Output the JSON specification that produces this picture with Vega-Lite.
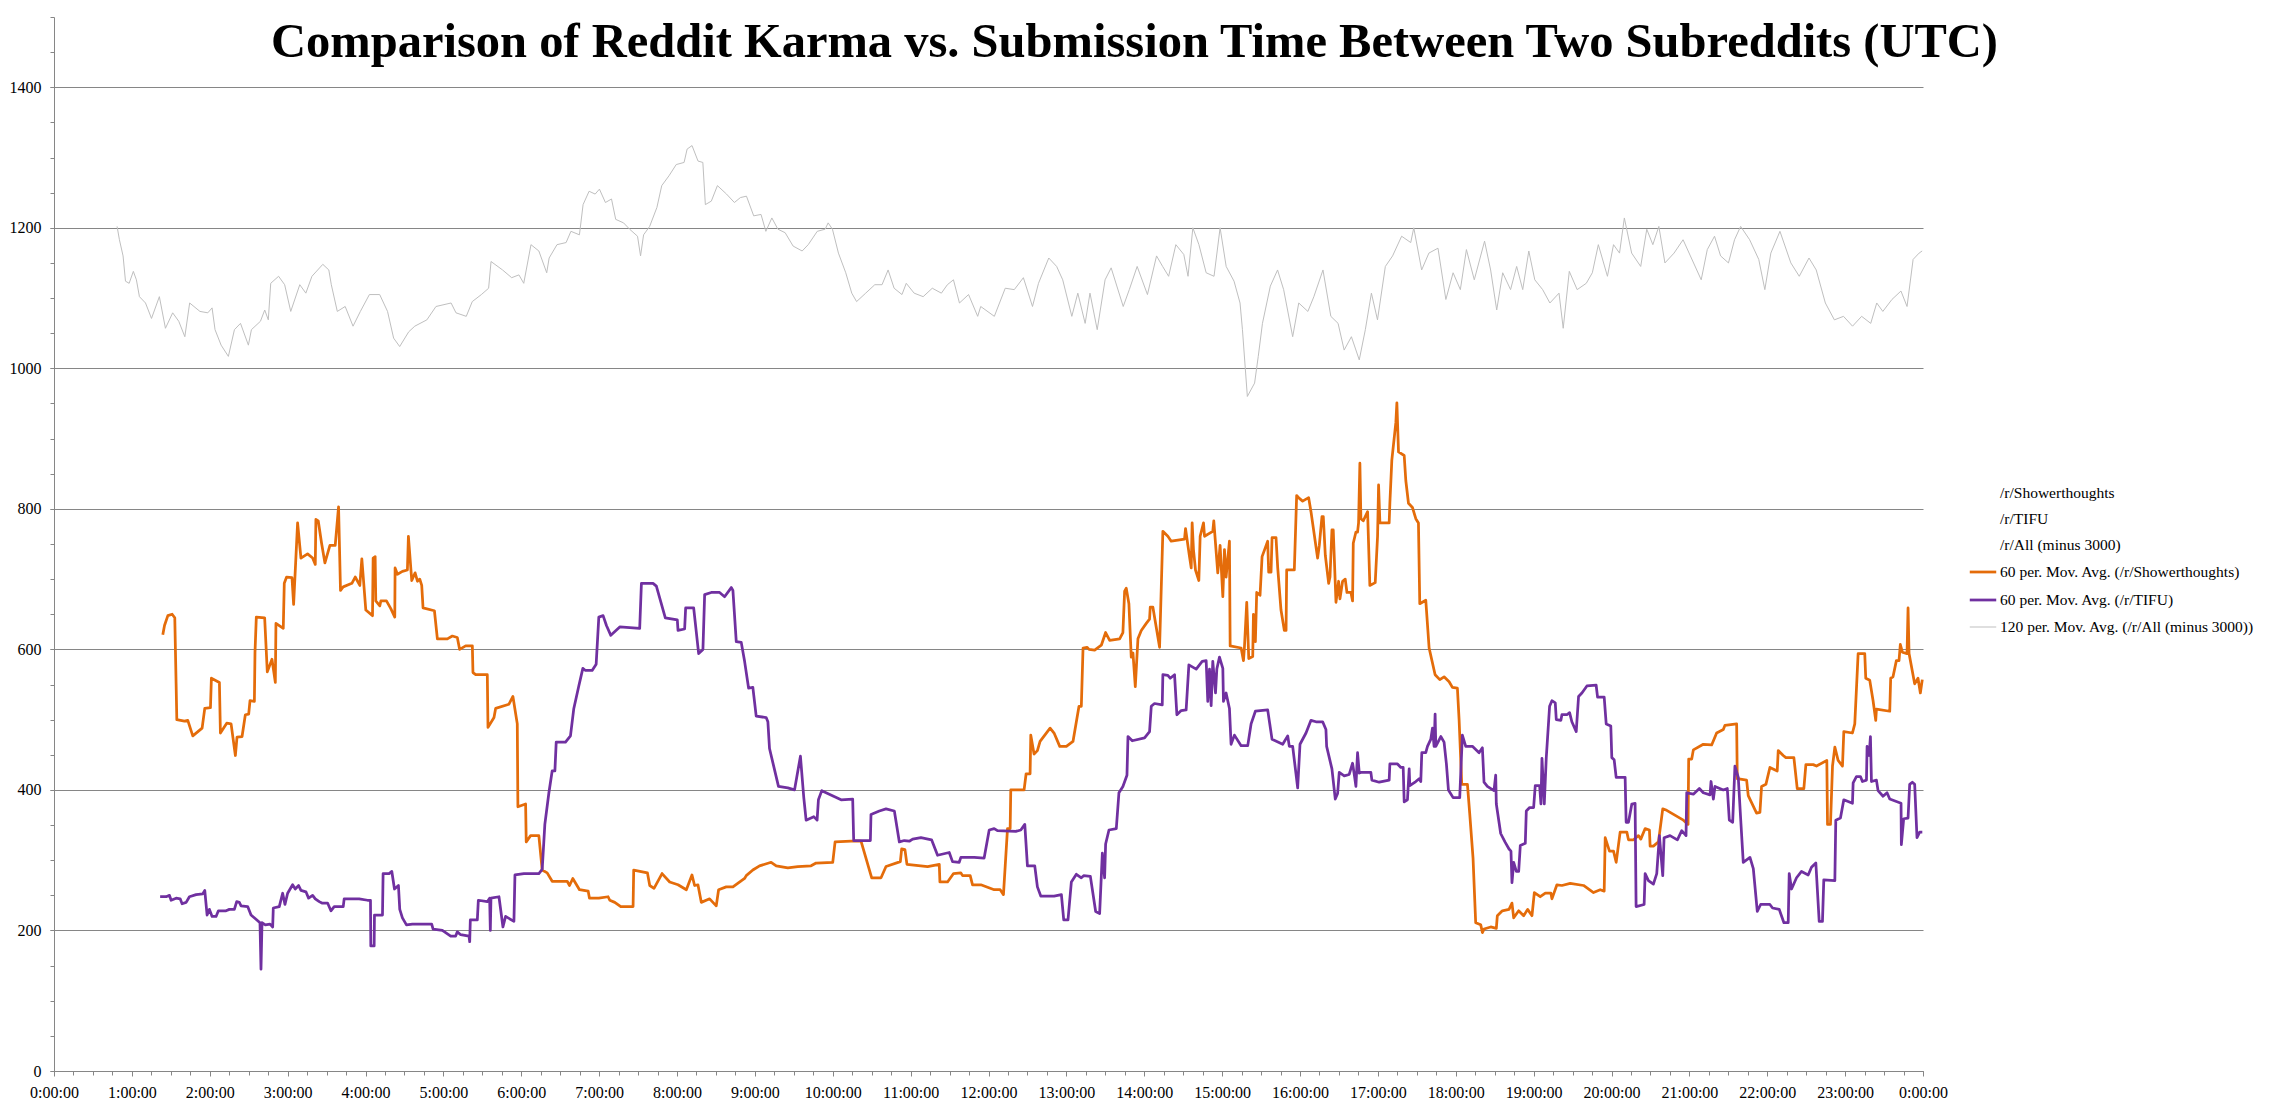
{
"$schema": "https://vega.github.io/schema/vega-lite/v6.json",
"width": 1869, "height": 1054,
"autosize": {"type": "none"},
"padding": {"left": 54, "top": 17, "right": 351, "bottom": 40},
"background": "white",
"config": {"view": {"stroke": null}, "font": "Liberation Serif",
 "axis": {"labelFont": "Liberation Serif", "labelColor": "black", "labelFontSize": 16, "domainColor": "#868686", "tickColor": "#868686", "gridColor": "#868686", "gridOpacity": 1}},
"data": {"values": [
{"s":"d","h":1.397,"v":621},{"s":"d","h":1.419,"v":634},{"s":"d","h":1.462,"v":648},{"s":"d","h":1.517,"v":650},{"s":"d","h":1.551,"v":645},{"s":"d","h":1.568,"v":551},{"s":"d","h":1.577,"v":500},{"s":"d","h":1.675,"v":498},{"s":"d","h":1.718,"v":499},{"s":"d","h":1.782,"v":477},{"s":"d","h":1.902,"v":488},{"s":"d","h":1.936,"v":516},{"s":"d","h":2.009,"v":517},{"s":"d","h":2.021,"v":559},{"s":"d","h":2.124,"v":553},{"s":"d","h":2.137,"v":481},{"s":"d","h":2.218,"v":495},{"s":"d","h":2.274,"v":494},{"s":"d","h":2.329,"v":449},{"s":"d","h":2.35,"v":475},{"s":"d","h":2.415,"v":476},{"s":"d","h":2.457,"v":507},{"s":"d","h":2.5,"v":508},{"s":"d","h":2.517,"v":527},{"s":"d","h":2.573,"v":526},{"s":"d","h":2.581,"v":596},{"s":"d","h":2.598,"v":646},{"s":"d","h":2.705,"v":645},{"s":"d","h":2.739,"v":568},{"s":"d","h":2.799,"v":586},{"s":"d","h":2.842,"v":553},{"s":"d","h":2.85,"v":637},{"s":"d","h":2.944,"v":630},{"s":"d","h":2.957,"v":694},{"s":"d","h":2.987,"v":703},{"s":"d","h":3.056,"v":702},{"s":"d","h":3.077,"v":664},{"s":"d","h":3.128,"v":780},{"s":"d","h":3.171,"v":730},{"s":"d","h":3.256,"v":736},{"s":"d","h":3.321,"v":730},{"s":"d","h":3.355,"v":721},{"s":"d","h":3.363,"v":785},{"s":"d","h":3.393,"v":783},{"s":"d","h":3.436,"v":751},{"s":"d","h":3.479,"v":723},{"s":"d","h":3.543,"v":748},{"s":"d","h":3.611,"v":748},{"s":"d","h":3.654,"v":803},{"s":"d","h":3.679,"v":684},{"s":"d","h":3.714,"v":689},{"s":"d","h":3.825,"v":694},{"s":"d","h":3.868,"v":703},{"s":"d","h":3.927,"v":691},{"s":"d","h":3.953,"v":729},{"s":"d","h":4.004,"v":656},{"s":"d","h":4.09,"v":648},{"s":"d","h":4.098,"v":730},{"s":"d","h":4.124,"v":732},{"s":"d","h":4.132,"v":669},{"s":"d","h":4.184,"v":662},{"s":"d","h":4.197,"v":669},{"s":"d","h":4.269,"v":669},{"s":"d","h":4.325,"v":658},{"s":"d","h":4.376,"v":646},{"s":"d","h":4.38,"v":716},{"s":"d","h":4.41,"v":707},{"s":"d","h":4.474,"v":711},{"s":"d","h":4.538,"v":713},{"s":"d","h":4.551,"v":761},{"s":"d","h":4.594,"v":698},{"s":"d","h":4.637,"v":709},{"s":"d","h":4.667,"v":697},{"s":"d","h":4.697,"v":700},{"s":"d","h":4.722,"v":691},{"s":"d","h":4.739,"v":659},{"s":"d","h":4.885,"v":655},{"s":"d","h":4.923,"v":615},{"s":"d","h":5.051,"v":615},{"s":"d","h":5.115,"v":619},{"s":"d","h":5.179,"v":617},{"s":"d","h":5.209,"v":600},{"s":"d","h":5.286,"v":605},{"s":"d","h":5.372,"v":605},{"s":"d","h":5.38,"v":567},{"s":"d","h":5.415,"v":564},{"s":"d","h":5.564,"v":564},{"s":"d","h":5.573,"v":489},{"s":"d","h":5.65,"v":503},{"s":"d","h":5.671,"v":516},{"s":"d","h":5.842,"v":522},{"s":"d","h":5.893,"v":533},{"s":"d","h":5.949,"v":494},{"s":"d","h":5.957,"v":376},{"s":"d","h":6.056,"v":380},{"s":"d","h":6.064,"v":326},{"s":"d","h":6.12,"v":335},{"s":"d","h":6.226,"v":335},{"s":"d","h":6.269,"v":286},{"s":"d","h":6.333,"v":282},{"s":"d","h":6.397,"v":270},{"s":"d","h":6.59,"v":270},{"s":"d","h":6.62,"v":264},{"s":"d","h":6.662,"v":274},{"s":"d","h":6.748,"v":258},{"s":"d","h":6.859,"v":256},{"s":"d","h":6.876,"v":246},{"s":"d","h":6.996,"v":246},
{"s":"d","h":7.115,"v":248},{"s":"d","h":7.137,"v":243},{"s":"d","h":7.201,"v":240},{"s":"d","h":7.278,"v":234},{"s":"d","h":7.436,"v":234},{"s":"d","h":7.444,"v":286},{"s":"d","h":7.62,"v":282},{"s":"d","h":7.65,"v":264},{"s":"d","h":7.705,"v":260},{"s":"d","h":7.808,"v":281},{"s":"d","h":7.906,"v":269},{"s":"d","h":8.013,"v":265},{"s":"d","h":8.12,"v":258},{"s":"d","h":8.192,"v":279},{"s":"d","h":8.226,"v":264},{"s":"d","h":8.269,"v":265},{"s":"d","h":8.312,"v":240},{"s":"d","h":8.419,"v":245},{"s":"d","h":8.504,"v":235},{"s":"d","h":8.534,"v":258},{"s":"d","h":8.632,"v":262},{"s":"d","h":8.718,"v":262},{"s":"d","h":8.868,"v":274},{"s":"d","h":8.889,"v":278},{"s":"d","h":8.974,"v":286},{"s":"d","h":9.06,"v":292},{"s":"d","h":9.209,"v":297},{"s":"d","h":9.274,"v":292},{"s":"d","h":9.423,"v":289},{"s":"d","h":9.551,"v":291},{"s":"d","h":9.722,"v":292},{"s":"d","h":9.786,"v":296},{"s":"d","h":10.0,"v":297},{"s":"d","h":10.03,"v":326},{"s":"d","h":10.235,"v":327},{"s":"d","h":10.363,"v":327},{"s":"d","h":10.5,"v":275},{"s":"d","h":10.62,"v":275},{"s":"d","h":10.684,"v":291},{"s":"d","h":10.868,"v":298},{"s":"d","h":10.885,"v":316},{"s":"d","h":10.927,"v":315},{"s":"d","h":10.953,"v":294},{"s":"d","h":11.218,"v":291},{"s":"d","h":11.368,"v":294},{"s":"d","h":11.376,"v":269},{"s":"d","h":11.474,"v":269},{"s":"d","h":11.551,"v":281},{"s":"d","h":11.645,"v":282},{"s":"d","h":11.667,"v":278},{"s":"d","h":11.765,"v":278},{"s":"d","h":11.795,"v":265},{"s":"d","h":11.902,"v":265},{"s":"d","h":12.073,"v":258},{"s":"d","h":12.15,"v":258},{"s":"d","h":12.192,"v":251},{"s":"d","h":12.244,"v":345},{"s":"d","h":12.278,"v":345},{"s":"d","h":12.286,"v":400},{"s":"d","h":12.457,"v":400},{"s":"d","h":12.483,"v":423},{"s":"d","h":12.534,"v":423},{"s":"d","h":12.543,"v":478},{"s":"d","h":12.585,"v":451},{"s":"d","h":12.628,"v":456},{"s":"d","h":12.662,"v":469},{"s":"d","h":12.791,"v":488},{"s":"d","h":12.842,"v":481},
{"s":"d","h":12.915,"v":462},{"s":"d","h":13.0,"v":462},{"s":"d","h":13.085,"v":469},{"s":"d","h":13.162,"v":519},{"s":"d","h":13.192,"v":519},{"s":"d","h":13.214,"v":602},{"s":"d","h":13.265,"v":603},{"s":"d","h":13.291,"v":600},{"s":"d","h":13.363,"v":599},{"s":"d","h":13.449,"v":606},{"s":"d","h":13.504,"v":624},{"s":"d","h":13.556,"v":613},{"s":"d","h":13.684,"v":615},{"s":"d","h":13.726,"v":624},{"s":"d","h":13.748,"v":683},{"s":"d","h":13.769,"v":687},{"s":"d","h":13.803,"v":665},{"s":"d","h":13.833,"v":589},{"s":"d","h":13.855,"v":595},{"s":"d","h":13.885,"v":547},{"s":"d","h":13.919,"v":615},{"s":"d","h":13.962,"v":627},{"s":"d","h":14.026,"v":637},{"s":"d","h":14.068,"v":643},{"s":"d","h":14.077,"v":660},{"s":"d","h":14.111,"v":660},{"s":"d","h":14.197,"v":603},{"s":"d","h":14.239,"v":768},{"s":"d","h":14.303,"v":761},{"s":"d","h":14.346,"v":754},{"s":"d","h":14.517,"v":757},{"s":"d","h":14.53,"v":772},{"s":"d","h":14.581,"v":732},{"s":"d","h":14.603,"v":716},{"s":"d","h":14.615,"v":780},{"s":"d","h":14.632,"v":742},{"s":"d","h":14.658,"v":713},{"s":"d","h":14.701,"v":698},{"s":"d","h":14.718,"v":761},{"s":"d","h":14.761,"v":780},{"s":"d","h":14.774,"v":761},{"s":"d","h":14.88,"v":768},{"s":"d","h":14.893,"v":783},{"s":"d","h":14.944,"v":709},{"s":"d","h":14.974,"v":748},{"s":"d","h":15.009,"v":675},{"s":"d","h":15.03,"v":742},{"s":"d","h":15.051,"v":703},{"s":"d","h":15.094,"v":754},{"s":"d","h":15.103,"v":605},{"s":"d","h":15.244,"v":602},{"s":"d","h":15.274,"v":584},{"s":"d","h":15.286,"v":602},{"s":"d","h":15.316,"v":667},{"s":"d","h":15.342,"v":587},{"s":"d","h":15.393,"v":590},{"s":"d","h":15.402,"v":650},{"s":"d","h":15.427,"v":611},{"s":"d","h":15.444,"v":681},{"s":"d","h":15.487,"v":677},{"s":"d","h":15.513,"v":732},{"s":"d","h":15.585,"v":754},{"s":"d","h":15.598,"v":710},{"s":"d","h":15.628,"v":710},{"s":"d","h":15.641,"v":759},{"s":"d","h":15.692,"v":759},{"s":"d","h":15.714,"v":716},{"s":"d","h":15.756,"v":656},{"s":"d","h":15.799,"v":627},{"s":"d","h":15.821,"v":627},{"s":"d","h":15.829,"v":713},{"s":"d","h":15.927,"v":713},{"s":"d","h":15.957,"v":819},{"s":"d","h":15.991,"v":815},{"s":"d","h":16.034,"v":811},{"s":"d","h":16.111,"v":816},{"s":"d","h":16.141,"v":796},{"s":"d","h":16.226,"v":730},{"s":"d","h":16.248,"v":748},{"s":"d","h":16.282,"v":789},{"s":"d","h":16.299,"v":789},{"s":"d","h":16.325,"v":734},{"s":"d","h":16.368,"v":694},{"s":"d","h":16.385,"v":703},{"s":"d","h":16.41,"v":770},{"s":"d","h":16.427,"v":770},{"s":"d","h":16.462,"v":667},{"s":"d","h":16.496,"v":697},{"s":"d","h":16.513,"v":672},{"s":"d","h":16.547,"v":697},{"s":"d","h":16.581,"v":700},{"s":"d","h":16.603,"v":681},{"s":"d","h":16.654,"v":681},{"s":"d","h":16.675,"v":669},{"s":"d","h":16.684,"v":751},{"s":"d","h":16.718,"v":767},{"s":"d","h":16.739,"v":767},{"s":"d","h":16.752,"v":780},{"s":"d","h":16.769,"v":865},{"s":"d","h":16.782,"v":786},{"s":"d","h":16.812,"v":783},{"s":"d","h":16.868,"v":796},{"s":"d","h":16.897,"v":691},{"s":"d","h":16.966,"v":695},{"s":"d","h":16.996,"v":761},{"s":"d","h":17.009,"v":834},{"s":"d","h":17.026,"v":780},{"s":"d","h":17.145,"v":780},{"s":"d","h":17.154,"v":808},{"s":"d","h":17.179,"v":869},{"s":"d","h":17.231,"v":923},{"s":"d","h":17.244,"v":951},{"s":"d","h":17.265,"v":881},{"s":"d","h":17.338,"v":876},{"s":"d","h":17.359,"v":840},{"s":"d","h":17.393,"v":808},{"s":"d","h":17.444,"v":802},{"s":"d","h":17.487,"v":786},{"s":"d","h":17.521,"v":780},{"s":"d","h":17.538,"v":665},{"s":"d","h":17.615,"v":670},{"s":"d","h":17.658,"v":602},{"s":"d","h":17.735,"v":564},{"s":"d","h":17.795,"v":557},{"s":"d","h":17.85,"v":561},{"s":"d","h":17.915,"v":554},{"s":"d","h":17.957,"v":546},{"s":"d","h":18.021,"v":545},{"s":"d","h":18.043,"v":500},{"s":"d","h":18.077,"v":408},{"s":"d","h":18.15,"v":408},{"s":"d","h":18.179,"v":367},{"s":"d","h":18.222,"v":303},{"s":"d","h":18.256,"v":211},{"s":"d","h":18.321,"v":208},{"s":"d","h":18.342,"v":197},{"s":"d","h":18.363,"v":202},{"s":"d","h":18.449,"v":205},{"s":"d","h":18.521,"v":203},{"s":"d","h":18.534,"v":221},{"s":"d","h":18.598,"v":228},{"s":"d","h":18.684,"v":230},
{"s":"d","h":18.722,"v":239},{"s":"d","h":18.744,"v":218},{"s":"d","h":18.808,"v":228},{"s":"d","h":18.872,"v":221},{"s":"d","h":18.923,"v":230},{"s":"d","h":18.979,"v":221},{"s":"d","h":19.009,"v":254},{"s":"d","h":19.085,"v":248},{"s":"d","h":19.15,"v":253},{"s":"d","h":19.222,"v":253},{"s":"d","h":19.235,"v":245},{"s":"d","h":19.299,"v":265},{"s":"d","h":19.363,"v":264},{"s":"d","h":19.47,"v":267},{"s":"d","h":19.641,"v":264},{"s":"d","h":19.769,"v":254},{"s":"d","h":19.855,"v":258},{"s":"d","h":19.906,"v":256},{"s":"d","h":19.919,"v":332},{"s":"d","h":19.974,"v":313},{"s":"d","h":20.026,"v":313},{"s":"d","h":20.06,"v":297},{"s":"d","h":20.111,"v":340},{"s":"d","h":20.197,"v":340},{"s":"d","h":20.218,"v":329},{"s":"d","h":20.282,"v":329},{"s":"d","h":20.346,"v":335},{"s":"d","h":20.376,"v":330},{"s":"d","h":20.432,"v":345},{"s":"d","h":20.487,"v":343},{"s":"d","h":20.496,"v":320},{"s":"d","h":20.538,"v":320},{"s":"d","h":20.603,"v":326},{"s":"d","h":20.658,"v":373},{"s":"d","h":20.709,"v":371},{"s":"d","h":20.923,"v":357},{"s":"d","h":20.983,"v":351},{"s":"d","h":20.991,"v":444},{"s":"d","h":21.03,"v":444},{"s":"d","h":21.051,"v":457},{"s":"d","h":21.179,"v":465},{"s":"d","h":21.286,"v":464},{"s":"d","h":21.35,"v":481},{"s":"d","h":21.436,"v":486},{"s":"d","h":21.457,"v":492},{"s":"d","h":21.607,"v":494},{"s":"d","h":21.615,"v":416},{"s":"d","h":21.735,"v":414},{"s":"d","h":21.756,"v":392},{"s":"d","h":21.863,"v":367},{"s":"d","h":21.906,"v":368},{"s":"d","h":21.927,"v":405},{"s":"d","h":21.983,"v":408},{"s":"d","h":22.034,"v":432},{"s":"d","h":22.128,"v":427},{"s":"d","h":22.141,"v":456},{"s":"d","h":22.205,"v":449},{"s":"d","h":22.239,"v":446},{"s":"d","h":22.342,"v":446},{"s":"d","h":22.385,"v":402},{"s":"d","h":22.47,"v":402},{"s":"d","h":22.496,"v":436},{"s":"d","h":22.59,"v":436},{"s":"d","h":22.632,"v":434},{"s":"d","h":22.765,"v":442},{"s":"d","h":22.774,"v":351},{"s":"d","h":22.812,"v":351},{"s":"d","h":22.838,"v":434},{"s":"d","h":22.868,"v":461},{"s":"d","h":22.91,"v":442},{"s":"d","h":22.966,"v":434},{"s":"d","h":22.983,"v":483},{"s":"d","h":23.094,"v":481},{"s":"d","h":23.124,"v":494},{"s":"d","h":23.167,"v":594},{"s":"d","h":23.252,"v":594},{"s":"d","h":23.265,"v":559},{"s":"d","h":23.316,"v":556},{"s":"d","h":23.359,"v":527},{"s":"d","h":23.393,"v":499},{"s":"d","h":23.402,"v":515},{"s":"d","h":23.573,"v":512},{"s":"d","h":23.585,"v":559},{"s":"d","h":23.615,"v":561},{"s":"d","h":23.658,"v":584},{"s":"d","h":23.692,"v":584},{"s":"d","h":23.709,"v":607},{"s":"d","h":23.735,"v":596},{"s":"d","h":23.795,"v":594},{"s":"d","h":23.808,"v":659},{"s":"d","h":23.821,"v":594},{"s":"d","h":23.893,"v":551},{"s":"d","h":23.936,"v":559},{"s":"d","h":23.966,"v":538},{"s":"d","h":23.991,"v":557},
{"s":"e","h":1.363,"v":248},{"s":"e","h":1.44,"v":248},{"s":"e","h":1.483,"v":250},{"s":"e","h":1.504,"v":243},{"s":"e","h":1.568,"v":246},{"s":"e","h":1.62,"v":245},{"s":"e","h":1.645,"v":238},{"s":"e","h":1.697,"v":240},{"s":"e","h":1.739,"v":248},{"s":"e","h":1.825,"v":251},{"s":"e","h":1.91,"v":252},{"s":"e","h":1.936,"v":257},{"s":"e","h":1.966,"v":222},{"s":"e","h":1.996,"v":230},{"s":"e","h":2.03,"v":220},{"s":"e","h":2.081,"v":220},{"s":"e","h":2.111,"v":228},{"s":"e","h":2.209,"v":228},{"s":"e","h":2.252,"v":230},{"s":"e","h":2.316,"v":230},{"s":"e","h":2.346,"v":241},{"s":"e","h":2.38,"v":240},{"s":"e","h":2.402,"v":235},{"s":"e","h":2.487,"v":234},{"s":"e","h":2.53,"v":222},{"s":"e","h":2.594,"v":216},{"s":"e","h":2.645,"v":211},{"s":"e","h":2.658,"v":145},{"s":"e","h":2.671,"v":211},{"s":"e","h":2.714,"v":208},{"s":"e","h":2.774,"v":209},{"s":"e","h":2.808,"v":205},{"s":"e","h":2.816,"v":232},{"s":"e","h":2.893,"v":234},{"s":"e","h":2.936,"v":253},{"s":"e","h":2.966,"v":237},{"s":"e","h":3.0,"v":253},{"s":"e","h":3.064,"v":265},{"s":"e","h":3.098,"v":259},{"s":"e","h":3.141,"v":264},{"s":"e","h":3.171,"v":257},{"s":"e","h":3.235,"v":255},{"s":"e","h":3.269,"v":246},{"s":"e","h":3.321,"v":250},{"s":"e","h":3.355,"v":245},{"s":"e","h":3.406,"v":241},{"s":"e","h":3.44,"v":239},{"s":"e","h":3.513,"v":239},{"s":"e","h":3.556,"v":228},{"s":"e","h":3.598,"v":234},{"s":"e","h":3.714,"v":234},{"s":"e","h":3.726,"v":245},{"s":"e","h":3.919,"v":245},{"s":"e","h":4.026,"v":243},{"s":"e","h":4.064,"v":243},{"s":"e","h":4.068,"v":178},{"s":"e","h":4.111,"v":178},{"s":"e","h":4.115,"v":222},{"s":"e","h":4.218,"v":222},{"s":"e","h":4.226,"v":281},{"s":"e","h":4.303,"v":281},{"s":"e","h":4.338,"v":284},{"s":"e","h":4.372,"v":259},{"s":"e","h":4.423,"v":264},{"s":"e","h":4.44,"v":230},{"s":"e","h":4.474,"v":218},{"s":"e","h":4.526,"v":208},{"s":"e","h":4.603,"v":209},{"s":"e","h":4.85,"v":209},{"s":"e","h":4.868,"v":202},{"s":"e","h":4.987,"v":200},{"s":"e","h":5.094,"v":192},{"s":"e","h":5.158,"v":192},{"s":"e","h":5.179,"v":198},{"s":"e","h":5.222,"v":194},{"s":"e","h":5.329,"v":192},{"s":"e","h":5.338,"v":184},{"s":"e","h":5.346,"v":215},{"s":"e","h":5.436,"v":215},{"s":"e","h":5.449,"v":243},{"s":"e","h":5.564,"v":241},{"s":"e","h":5.594,"v":246},{"s":"e","h":5.603,"v":200},{"s":"e","h":5.611,"v":246},{"s":"e","h":5.714,"v":248},{"s":"e","h":5.765,"v":205},{"s":"e","h":5.799,"v":220},{"s":"e","h":5.906,"v":213},{"s":"e","h":5.919,"v":279},{"s":"e","h":6.034,"v":281},{"s":"e","h":6.226,"v":281},{"s":"e","h":6.269,"v":287},{"s":"e","h":6.303,"v":351},{"s":"e","h":6.355,"v":396},{"s":"e","h":6.397,"v":427},{"s":"e","h":6.432,"v":427},{"s":"e","h":6.449,"v":468},{"s":"e","h":6.568,"v":468},{"s":"e","h":6.632,"v":477},{"s":"e","h":6.675,"v":516},{"s":"e","h":6.739,"v":548},{"s":"e","h":6.791,"v":573},{"s":"e","h":6.825,"v":570},{"s":"e","h":6.91,"v":570},{"s":"e","h":6.962,"v":579},{"s":"e","h":6.996,"v":646},
{"s":"e","h":7.051,"v":648},{"s":"e","h":7.094,"v":634},{"s":"e","h":7.15,"v":620},{"s":"e","h":7.265,"v":632},{"s":"e","h":7.521,"v":630},{"s":"e","h":7.543,"v":694},{"s":"e","h":7.692,"v":694},{"s":"e","h":7.735,"v":690},{"s":"e","h":7.85,"v":645},{"s":"e","h":8.004,"v":642},{"s":"e","h":8.013,"v":627},{"s":"e","h":8.098,"v":629},{"s":"e","h":8.111,"v":659},{"s":"e","h":8.214,"v":659},{"s":"e","h":8.278,"v":594},{"s":"e","h":8.333,"v":600},{"s":"e","h":8.355,"v":678},{"s":"e","h":8.44,"v":681},{"s":"e","h":8.547,"v":681},{"s":"e","h":8.611,"v":675},{"s":"e","h":8.697,"v":688},{"s":"e","h":8.718,"v":684},{"s":"e","h":8.761,"v":611},{"s":"e","h":8.825,"v":610},{"s":"e","h":8.868,"v":583},{"s":"e","h":8.919,"v":545},{"s":"e","h":8.974,"v":546},{"s":"e","h":9.017,"v":505},{"s":"e","h":9.145,"v":503},{"s":"e","h":9.167,"v":497},{"s":"e","h":9.188,"v":459},{"s":"e","h":9.303,"v":405},{"s":"e","h":9.423,"v":403},{"s":"e","h":9.509,"v":400},{"s":"e","h":9.585,"v":448},{"s":"e","h":9.628,"v":389},{"s":"e","h":9.658,"v":357},{"s":"e","h":9.756,"v":362},{"s":"e","h":9.799,"v":357},{"s":"e","h":9.816,"v":386},{"s":"e","h":9.859,"v":399},{"s":"e","h":10.107,"v":386},{"s":"e","h":10.256,"v":387},{"s":"e","h":10.269,"v":328},{"s":"e","h":10.483,"v":328},{"s":"e","h":10.491,"v":365},{"s":"e","h":10.598,"v":370},{"s":"e","h":10.684,"v":373},{"s":"e","h":10.791,"v":370},{"s":"e","h":10.855,"v":326},{"s":"e","h":10.919,"v":328},{"s":"e","h":10.983,"v":327},{"s":"e","h":11.026,"v":330},{"s":"e","h":11.132,"v":332},{"s":"e","h":11.269,"v":329},{"s":"e","h":11.346,"v":307},{"s":"e","h":11.496,"v":311},{"s":"e","h":11.538,"v":298},{"s":"e","h":11.624,"v":297},{"s":"e","h":11.645,"v":304},{"s":"e","h":11.816,"v":304},{"s":"e","h":11.944,"v":303},{"s":"e","h":12.009,"v":343},{"s":"e","h":12.073,"v":345},{"s":"e","h":12.115,"v":342},{"s":"e","h":12.35,"v":341},{"s":"e","h":12.415,"v":343},{"s":"e","h":12.466,"v":351},{"s":"e","h":12.5,"v":292},{"s":"e","h":12.594,"v":292},{"s":"e","h":12.628,"v":262},{"s":"e","h":12.671,"v":249},{"s":"e","h":12.842,"v":249},
{"s":"e","h":12.936,"v":251},{"s":"e","h":12.966,"v":215},{"s":"e","h":13.021,"v":215},{"s":"e","h":13.064,"v":269},{"s":"e","h":13.128,"v":280},{"s":"e","h":13.192,"v":275},{"s":"e","h":13.222,"v":278},{"s":"e","h":13.308,"v":277},{"s":"e","h":13.376,"v":227},{"s":"e","h":13.427,"v":224},{"s":"e","h":13.462,"v":310},{"s":"e","h":13.491,"v":275},{"s":"e","h":13.504,"v":323},{"s":"e","h":13.547,"v":343},{"s":"e","h":13.641,"v":345},{"s":"e","h":13.675,"v":396},{"s":"e","h":13.726,"v":405},{"s":"e","h":13.778,"v":421},{"s":"e","h":13.791,"v":476},{"s":"e","h":13.846,"v":470},{"s":"e","h":14.004,"v":474},{"s":"e","h":14.068,"v":483},{"s":"e","h":14.09,"v":519},{"s":"e","h":14.132,"v":523},{"s":"e","h":14.231,"v":521},{"s":"e","h":14.239,"v":564},{"s":"e","h":14.303,"v":563},{"s":"e","h":14.333,"v":559},{"s":"e","h":14.389,"v":564},{"s":"e","h":14.419,"v":507},{"s":"e","h":14.474,"v":513},{"s":"e","h":14.538,"v":514},{"s":"e","h":14.573,"v":578},{"s":"e","h":14.667,"v":572},{"s":"e","h":14.744,"v":583},{"s":"e","h":14.795,"v":584},{"s":"e","h":14.816,"v":526},{"s":"e","h":14.838,"v":572},{"s":"e","h":14.859,"v":520},{"s":"e","h":14.88,"v":583},{"s":"e","h":14.915,"v":538},{"s":"e","h":14.932,"v":572},{"s":"e","h":14.966,"v":589},{"s":"e","h":15.009,"v":573},{"s":"e","h":15.017,"v":526},{"s":"e","h":15.051,"v":538},{"s":"e","h":15.094,"v":516},{"s":"e","h":15.115,"v":465},{"s":"e","h":15.158,"v":478},{"s":"e","h":15.244,"v":463},{"s":"e","h":15.329,"v":463},{"s":"e","h":15.372,"v":494},{"s":"e","h":15.427,"v":512},{"s":"e","h":15.585,"v":514},{"s":"e","h":15.641,"v":472},{"s":"e","h":15.778,"v":465},{"s":"e","h":15.842,"v":477},{"s":"e","h":15.863,"v":462},{"s":"e","h":15.906,"v":462},{"s":"e","h":15.97,"v":403},{"s":"e","h":16.0,"v":465},{"s":"e","h":16.077,"v":481},{"s":"e","h":16.141,"v":499},{"s":"e","h":16.205,"v":497},{"s":"e","h":16.291,"v":497},{"s":"e","h":16.333,"v":486},{"s":"e","h":16.342,"v":462},{"s":"e","h":16.41,"v":430},{"s":"e","h":16.453,"v":387},{"s":"e","h":16.483,"v":395},{"s":"e","h":16.504,"v":425},{"s":"e","h":16.568,"v":420},{"s":"e","h":16.632,"v":422},{"s":"e","h":16.675,"v":438},{"s":"e","h":16.697,"v":422},{"s":"e","h":16.718,"v":405},{"s":"e","h":16.739,"v":453},{"s":"e","h":16.761,"v":424},{"s":"e","h":16.782,"v":425},{"s":"e","h":16.91,"v":425},{"s":"e","h":16.923,"v":414},{"s":"e","h":17.017,"v":411},{"s":"e","h":17.145,"v":414},{"s":"e","h":17.154,"v":437},{"s":"e","h":17.252,"v":437},{"s":"e","h":17.295,"v":432},{"s":"e","h":17.325,"v":432},{"s":"e","h":17.338,"v":383},{"s":"e","h":17.38,"v":386},{"s":"e","h":17.402,"v":430},{"s":"e","h":17.41,"v":406},{"s":"e","h":17.487,"v":412},{"s":"e","h":17.53,"v":416},{"s":"e","h":17.551,"v":412},{"s":"e","h":17.564,"v":453},{"s":"e","h":17.615,"v":453},{"s":"e","h":17.637,"v":462},{"s":"e","h":17.679,"v":472},{"s":"e","h":17.701,"v":488},{"s":"e","h":17.722,"v":462},{"s":"e","h":17.735,"v":508},{"s":"e","h":17.744,"v":462},{"s":"e","h":17.808,"v":476},{"s":"e","h":17.85,"v":468},{"s":"e","h":17.88,"v":437},{"s":"e","h":17.906,"v":400},{"s":"e","h":17.966,"v":389},{"s":"e","h":18.051,"v":389},{"s":"e","h":18.085,"v":478},{"s":"e","h":18.128,"v":462},{"s":"e","h":18.214,"v":462},{"s":"e","h":18.299,"v":453},{"s":"e","h":18.342,"v":460},{"s":"e","h":18.363,"v":411},{"s":"e","h":18.406,"v":405},{"s":"e","h":18.491,"v":399},{"s":"e","h":18.513,"v":421},{"s":"e","h":18.521,"v":380},{"s":"e","h":18.577,"v":338},{"s":"e","h":18.632,"v":326},{"s":"e","h":18.684,"v":316},
{"s":"e","h":18.709,"v":313},{"s":"e","h":18.722,"v":268},{"s":"e","h":18.744,"v":297},{"s":"e","h":18.778,"v":284},{"s":"e","h":18.808,"v":284},{"s":"e","h":18.829,"v":321},{"s":"e","h":18.893,"v":324},{"s":"e","h":18.906,"v":370},{"s":"e","h":18.949,"v":375},{"s":"e","h":19.0,"v":375},{"s":"e","h":19.021,"v":406},{"s":"e","h":19.077,"v":406},{"s":"e","h":19.094,"v":380},{"s":"e","h":19.107,"v":445},{"s":"e","h":19.137,"v":380},{"s":"e","h":19.162,"v":445},{"s":"e","h":19.205,"v":519},{"s":"e","h":19.235,"v":527},{"s":"e","h":19.278,"v":524},{"s":"e","h":19.291,"v":500},{"s":"e","h":19.35,"v":499},{"s":"e","h":19.363,"v":507},{"s":"e","h":19.427,"v":507},{"s":"e","h":19.462,"v":510},{"s":"e","h":19.491,"v":497},{"s":"e","h":19.547,"v":483},{"s":"e","h":19.577,"v":533},{"s":"e","h":19.62,"v":538},{"s":"e","h":19.684,"v":548},{"s":"e","h":19.803,"v":549},{"s":"e","h":19.821,"v":532},{"s":"e","h":19.906,"v":532},{"s":"e","h":19.932,"v":494},{"s":"e","h":19.991,"v":491},{"s":"e","h":20.004,"v":446},{"s":"e","h":20.034,"v":443},{"s":"e","h":20.06,"v":418},{"s":"e","h":20.175,"v":418},{"s":"e","h":20.188,"v":354},{"s":"e","h":20.218,"v":354},{"s":"e","h":20.261,"v":380},{"s":"e","h":20.303,"v":381},{"s":"e","h":20.316,"v":234},{"s":"e","h":20.419,"v":237},{"s":"e","h":20.432,"v":281},{"s":"e","h":20.474,"v":271},{"s":"e","h":20.538,"v":266},{"s":"e","h":20.581,"v":281},{"s":"e","h":20.615,"v":335},{"s":"e","h":20.658,"v":278},{"s":"e","h":20.675,"v":332},{"s":"e","h":20.752,"v":335},{"s":"e","h":20.846,"v":329},{"s":"e","h":20.902,"v":342},{"s":"e","h":20.957,"v":335},{"s":"e","h":20.966,"v":396},{"s":"e","h":21.051,"v":394},{"s":"e","h":21.128,"v":402},{"s":"e","h":21.179,"v":396},{"s":"e","h":21.265,"v":393},{"s":"e","h":21.278,"v":412},{"s":"e","h":21.308,"v":387},{"s":"e","h":21.329,"v":405},{"s":"e","h":21.436,"v":400},{"s":"e","h":21.487,"v":402},{"s":"e","h":21.513,"v":357},{"s":"e","h":21.556,"v":354},{"s":"e","h":21.585,"v":434},{"s":"e","h":21.628,"v":418},{"s":"e","h":21.658,"v":360},{"s":"e","h":21.692,"v":297},{"s":"e","h":21.778,"v":304},{"s":"e","h":21.821,"v":288},{"s":"e","h":21.872,"v":227},{"s":"e","h":21.915,"v":237},{"s":"e","h":22.034,"v":237},{"s":"e","h":22.068,"v":232},{"s":"e","h":22.154,"v":230},{"s":"e","h":22.214,"v":211},{"s":"e","h":22.269,"v":211},{"s":"e","h":22.282,"v":281},{"s":"e","h":22.312,"v":259},{"s":"e","h":22.376,"v":275},{"s":"e","h":22.44,"v":284},{"s":"e","h":22.526,"v":279},{"s":"e","h":22.568,"v":290},{"s":"e","h":22.624,"v":296},{"s":"e","h":22.667,"v":213},{"s":"e","h":22.709,"v":213},{"s":"e","h":22.726,"v":272},{"s":"e","h":22.868,"v":271},{"s":"e","h":22.88,"v":357},{"s":"e","h":22.94,"v":360},{"s":"e","h":22.983,"v":386},{"s":"e","h":23.094,"v":381},{"s":"e","h":23.103,"v":410},{"s":"e","h":23.145,"v":419},{"s":"e","h":23.197,"v":419},{"s":"e","h":23.222,"v":412},{"s":"e","h":23.274,"v":414},{"s":"e","h":23.282,"v":462},{"s":"e","h":23.308,"v":449},{"s":"e","h":23.325,"v":476},{"s":"e","h":23.338,"v":412},{"s":"e","h":23.402,"v":414},{"s":"e","h":23.423,"v":399},{"s":"e","h":23.487,"v":391},{"s":"e","h":23.538,"v":396},{"s":"e","h":23.573,"v":387},{"s":"e","h":23.718,"v":381},{"s":"e","h":23.722,"v":322},{"s":"e","h":23.752,"v":359},{"s":"e","h":23.808,"v":360},{"s":"e","h":23.829,"v":408},{"s":"e","h":23.863,"v":411},{"s":"e","h":23.893,"v":408},{"s":"e","h":23.923,"v":332},{"s":"e","h":23.957,"v":340},{"s":"e","h":23.991,"v":340},
{"s":"f","h":0.81,"v":1202},{"s":"f","h":0.84,"v":1183},{"s":"f","h":0.887,"v":1160},{"s":"f","h":0.918,"v":1124},{"s":"f","h":0.965,"v":1121},{"s":"f","h":1.019,"v":1138},{"s":"f","h":1.058,"v":1126},{"s":"f","h":1.097,"v":1102},{"s":"f","h":1.175,"v":1093},{"s":"f","h":1.252,"v":1071},{"s":"f","h":1.353,"v":1102},{"s":"f","h":1.431,"v":1057},{"s":"f","h":1.524,"v":1079},{"s":"f","h":1.602,"v":1067},{"s":"f","h":1.68,"v":1045},{"s":"f","h":1.742,"v":1093},{"s":"f","h":1.874,"v":1081},{"s":"f","h":1.975,"v":1079},{"s":"f","h":2.03,"v":1086},{"s":"f","h":2.068,"v":1055},{"s":"f","h":2.146,"v":1033},{"s":"f","h":2.239,"v":1017},{"s":"f","h":2.317,"v":1055},{"s":"f","h":2.395,"v":1064},{"s":"f","h":2.496,"v":1033},{"s":"f","h":2.535,"v":1055},{"s":"f","h":2.651,"v":1067},{"s":"f","h":2.706,"v":1083},{"s":"f","h":2.752,"v":1069},{"s":"f","h":2.783,"v":1121},{"s":"f","h":2.884,"v":1131},{"s":"f","h":2.962,"v":1119},{"s":"f","h":3.04,"v":1081},{"s":"f","h":3.156,"v":1119},{"s":"f","h":3.234,"v":1107},{"s":"f","h":3.312,"v":1131},{"s":"f","h":3.452,"v":1148},{"s":"f","h":3.529,"v":1140},{"s":"f","h":3.561,"v":1119},{"s":"f","h":3.638,"v":1081},{"s":"f","h":3.739,"v":1088},{"s":"f","h":3.84,"v":1060},{"s":"f","h":3.934,"v":1081},{"s":"f","h":4.05,"v":1105},{"s":"f","h":4.182,"v":1105},{"s":"f","h":4.283,"v":1081},{"s":"f","h":4.361,"v":1043},{"s":"f","h":4.439,"v":1031},{"s":"f","h":4.555,"v":1052},{"s":"f","h":4.633,"v":1060},{"s":"f","h":4.788,"v":1069},{"s":"f","h":4.905,"v":1088},{"s":"f","h":5.099,"v":1093},{"s":"f","h":5.162,"v":1079},{"s":"f","h":5.294,"v":1074},{"s":"f","h":5.371,"v":1095},{"s":"f","h":5.488,"v":1105},{"s":"f","h":5.581,"v":1114},{"s":"f","h":5.612,"v":1152},{"s":"f","h":5.76,"v":1140},{"s":"f","h":5.877,"v":1129},{"s":"f","h":5.97,"v":1133},{"s":"f","h":6.032,"v":1121},{"s":"f","h":6.125,"v":1176},{"s":"f","h":6.226,"v":1167},{"s":"f","h":6.327,"v":1136},{"s":"f","h":6.358,"v":1157},{"s":"f","h":6.459,"v":1176},{"s":"f","h":6.576,"v":1179},{"s":"f","h":6.638,"v":1195},{"s":"f","h":6.747,"v":1190},{"s":"f","h":6.794,"v":1233},{"s":"f","h":6.871,"v":1252},{"s":"f","h":6.949,"v":1248},{"s":"f","h":7.004,"v":1255},{"s":"f","h":7.081,"v":1236},{"s":"f","h":7.159,"v":1241},{"s":"f","h":7.213,"v":1212},{"s":"f","h":7.314,"v":1207},{"s":"f","h":7.392,"v":1198},{"s":"f","h":7.493,"v":1188},{"s":"f","h":7.532,"v":1160},{"s":"f","h":7.571,"v":1190},{"s":"f","h":7.649,"v":1202},{"s":"f","h":7.742,"v":1229},{"s":"f","h":7.804,"v":1260},{"s":"f","h":7.897,"v":1274},{"s":"f","h":7.99,"v":1290},{"s":"f","h":8.091,"v":1293},{"s":"f","h":8.13,"v":1312},{"s":"f","h":8.193,"v":1317},{"s":"f","h":8.27,"v":1295},{"s":"f","h":8.332,"v":1293},{"s":"f","h":8.364,"v":1233},{"s":"f","h":8.441,"v":1238},{"s":"f","h":8.519,"v":1260},{"s":"f","h":8.636,"v":1248},{"s":"f","h":8.737,"v":1236},{"s":"f","h":8.814,"v":1243},{"s":"f","h":8.892,"v":1245},{"s":"f","h":8.985,"v":1217},{"s":"f","h":9.079,"v":1219},{"s":"f","h":9.141,"v":1195},{"s":"f","h":9.218,"v":1214},{"s":"f","h":9.296,"v":1198},{"s":"f","h":9.389,"v":1193},{"s":"f","h":9.491,"v":1174},{"s":"f","h":9.607,"v":1167},{"s":"f","h":9.685,"v":1176},{"s":"f","h":9.801,"v":1195},{"s":"f","h":9.902,"v":1198},{"s":"f","h":9.941,"v":1207},{"s":"f","h":9.996,"v":1198},{"s":"f","h":10.073,"v":1164},{"s":"f","h":10.167,"v":1136},{"s":"f","h":10.244,"v":1107},{"s":"f","h":10.306,"v":1095},{"s":"f","h":10.423,"v":1107},{"s":"f","h":10.54,"v":1119},{"s":"f","h":10.633,"v":1119},{"s":"f","h":10.711,"v":1140},{"s":"f","h":10.788,"v":1114},{"s":"f","h":10.889,"v":1105},{"s":"f","h":10.944,"v":1121},{"s":"f","h":11.045,"v":1107},{"s":"f","h":11.161,"v":1102},{"s":"f","h":11.278,"v":1114},{"s":"f","h":11.395,"v":1107},{"s":"f","h":11.472,"v":1119},{"s":"f","h":11.55,"v":1126},{"s":"f","h":11.627,"v":1093},{"s":"f","h":11.744,"v":1105},{"s":"f","h":11.861,"v":1074},
{"s":"f","h":11.9,"v":1088},{"s":"f","h":12.075,"v":1074},{"s":"f","h":12.215,"v":1114},{"s":"f","h":12.331,"v":1112},{"s":"f","h":12.448,"v":1129},{"s":"f","h":12.565,"v":1088},{"s":"f","h":12.642,"v":1121},{"s":"f","h":12.774,"v":1157},{"s":"f","h":12.875,"v":1145},{"s":"f","h":12.953,"v":1126},{"s":"f","h":13.07,"v":1074},{"s":"f","h":13.147,"v":1107},{"s":"f","h":13.241,"v":1064},{"s":"f","h":13.303,"v":1107},{"s":"f","h":13.396,"v":1055},{"s":"f","h":13.497,"v":1126},{"s":"f","h":13.575,"v":1143},{"s":"f","h":13.73,"v":1088},{"s":"f","h":13.808,"v":1112},{"s":"f","h":13.909,"v":1145},{"s":"f","h":14.041,"v":1105},{"s":"f","h":14.158,"v":1160},{"s":"f","h":14.236,"v":1145},{"s":"f","h":14.313,"v":1131},{"s":"f","h":14.406,"v":1176},{"s":"f","h":14.508,"v":1162},{"s":"f","h":14.562,"v":1131},{"s":"f","h":14.624,"v":1200},{"s":"f","h":14.702,"v":1176},{"s":"f","h":14.795,"v":1136},{"s":"f","h":14.896,"v":1131},{"s":"f","h":14.974,"v":1200},{"s":"f","h":15.052,"v":1145},{"s":"f","h":15.153,"v":1124},{"s":"f","h":15.23,"v":1093},{"s":"f","h":15.261,"v":1055},{"s":"f","h":15.324,"v":960},{"s":"f","h":15.417,"v":979},{"s":"f","h":15.464,"v":1017},{"s":"f","h":15.518,"v":1064},{"s":"f","h":15.619,"v":1117},{"s":"f","h":15.712,"v":1140},{"s":"f","h":15.79,"v":1112},{"s":"f","h":15.906,"v":1045},{"s":"f","h":15.984,"v":1093},{"s":"f","h":16.101,"v":1081},{"s":"f","h":16.178,"v":1102},{"s":"f","h":16.295,"v":1140},{"s":"f","h":16.396,"v":1074},{"s":"f","h":16.489,"v":1064},{"s":"f","h":16.567,"v":1026},{"s":"f","h":16.66,"v":1045},{"s":"f","h":16.761,"v":1012},{"s":"f","h":16.839,"v":1055},{"s":"f","h":16.917,"v":1107},{"s":"f","h":16.995,"v":1069},{"s":"f","h":17.096,"v":1145},{"s":"f","h":17.189,"v":1160},{"s":"f","h":17.305,"v":1188},{"s":"f","h":17.422,"v":1179},{"s":"f","h":17.461,"v":1200},{"s":"f","h":17.562,"v":1140},{"s":"f","h":17.655,"v":1164},{"s":"f","h":17.772,"v":1171},{"s":"f","h":17.873,"v":1098},{"s":"f","h":17.966,"v":1136},{"s":"f","h":18.059,"v":1112},{"s":"f","h":18.137,"v":1169},{"s":"f","h":18.238,"v":1126},{"s":"f","h":18.37,"v":1181},{"s":"f","h":18.448,"v":1140},{"s":"f","h":18.526,"v":1083},{"s":"f","h":18.603,"v":1136},{"s":"f","h":18.704,"v":1112},{"s":"f","h":18.782,"v":1145},{"s":"f","h":18.86,"v":1112},{"s":"f","h":18.938,"v":1167},{"s":"f","h":19.015,"v":1126},{"s":"f","h":19.116,"v":1112},{"s":"f","h":19.209,"v":1093},{"s":"f","h":19.326,"v":1107},{"s":"f","h":19.38,"v":1057},{"s":"f","h":19.458,"v":1138},{"s":"f","h":19.559,"v":1112},{"s":"f","h":19.676,"v":1121},{"s":"f","h":19.754,"v":1136},{"s":"f","h":19.831,"v":1176},{"s":"f","h":19.948,"v":1131},{"s":"f","h":20.026,"v":1176},{"s":"f","h":20.103,"v":1164},{"s":"f","h":20.165,"v":1214},{"s":"f","h":20.259,"v":1164},{"s":"f","h":20.375,"v":1145},{"s":"f","h":20.453,"v":1198},{"s":"f","h":20.531,"v":1176},{"s":"f","h":20.608,"v":1202},{"s":"f","h":20.686,"v":1150},{"s":"f","h":20.803,"v":1164},{"s":"f","h":20.919,"v":1183},{"s":"f","h":21.013,"v":1160},{"s":"f","h":21.152,"v":1126},{"s":"f","h":21.23,"v":1169},{"s":"f","h":21.323,"v":1188},{"s":"f","h":21.401,"v":1160},{"s":"f","h":21.502,"v":1150},{"s":"f","h":21.58,"v":1183},{"s":"f","h":21.658,"v":1202},{"s":"f","h":21.774,"v":1183},{"s":"f","h":21.891,"v":1155},{"s":"f","h":21.969,"v":1112},{"s":"f","h":22.046,"v":1164},{"s":"f","h":22.163,"v":1195},{"s":"f","h":22.303,"v":1150},{"s":"f","h":22.411,"v":1131},{"s":"f","h":22.536,"v":1157},{"s":"f","h":22.629,"v":1140},{"s":"f","h":22.746,"v":1093},{"s":"f","h":22.862,"v":1069},{"s":"f","h":22.979,"v":1074},{"s":"f","h":23.095,"v":1060},{"s":"f","h":23.212,"v":1074},{"s":"f","h":23.329,"v":1064},{"s":"f","h":23.406,"v":1093},{"s":"f","h":23.484,"v":1081},{"s":"f","h":23.601,"v":1098},{"s":"f","h":23.717,"v":1110},{"s":"f","h":23.795,"v":1088},{"s":"f","h":23.873,"v":1155},{"s":"f","h":23.95,"v":1164},{"s":"f","h":23.989,"v":1167}
]},
"layer": [
 {"mark": {"type": "line", "strokeJoin": "round", "strokeCap": "butt"},
  "encoding": {
   "x": {"field": "h", "type": "quantitative", "scale": {"domain": [0, 24], "nice": false, "zero": false},
     "axis": {"orient": "bottom", "values": [0,1,2,3,4,5,6,7,8,9,10,11,12,13,14,15,16,17,18,19,20,21,22,23,24], "labelExpr": "(datum.value % 24) + ':00:00'", "tickSize": 5, "labelPadding": 8, "grid": false, "labelFlush": false, "labelOverlap": false, "title": null}},
   "y": {"field": "v", "type": "quantitative", "scale": {"domain": [0, 1500], "nice": false},
     "axis": {"orient": "left", "values": [0,200,400,600,800,1000,1200,1400], "format": "d", "grid": true, "gridWidth": 1, "tickSize": 4, "labelPadding": 9, "title": null}},
   "color": {"field": "s", "type": "nominal",
     "scale": {"domain": ["a","b","c","d","e","f"], "range": ["transparent","transparent","transparent","#E46C0A","#7030A0","#BFBFBF"]},
     "legend": {"title": null, "orient": "none", "legendX": 1914, "legendY": 462, "symbolType": "stroke", "symbolSize": 700, "labelFont": "Liberation Serif", "labelFontSize": 15.5, "labelColor": "black", "labelLimit": 400, "rowPadding": 4, "labelOffset": 2, "padding": 0,
       "labelExpr": "datum.value=='a'?'/r/Showerthoughts':datum.value=='b'?'/r/TIFU':datum.value=='c'?'/r/All (minus 3000)':datum.value=='d'?'60 per. Mov. Avg. (/r/Showerthoughts)':datum.value=='e'?'60 per. Mov. Avg. (/r/TIFU)':'120 per. Mov. Avg. (/r/All (minus 3000))'"}},
   "strokeWidth": {"field": "s", "type": "nominal",
     "scale": {"type": "ordinal", "domain": ["a","b","c","d","e","f"], "range": [0, 0, 0, 2.75, 2.75, 1]},
     "legend": {"title": null, "orient": "none", "legendX": 1914, "legendY": 462, "symbolType": "stroke", "symbolSize": 700, "labelFont": "Liberation Serif", "labelFontSize": 15.5, "labelColor": "black", "labelLimit": 400, "rowPadding": 4, "labelOffset": 2, "padding": 0,
       "labelExpr": "datum.value=='a'?'/r/Showerthoughts':datum.value=='b'?'/r/TIFU':datum.value=='c'?'/r/All (minus 3000)':datum.value=='d'?'60 per. Mov. Avg. (/r/Showerthoughts)':datum.value=='e'?'60 per. Mov. Avg. (/r/TIFU)':'120 per. Mov. Avg. (/r/All (minus 3000))'"}}
  }},
 {"mark": {"type": "line", "strokeOpacity": 0},
  "encoding": {
   "x": {"field": "h", "type": "quantitative", "scale": {"domain": [0, 24], "nice": false, "zero": false},
     "axis": {"orient": "bottom", "values": [0,0.25,0.5,0.75,1,1.25,1.5,1.75,2,2.25,2.5,2.75,3,3.25,3.5,3.75,4,4.25,4.5,4.75,5,5.25,5.5,5.75,6,6.25,6.5,6.75,7,7.25,7.5,7.75,8,8.25,8.5,8.75,9,9.25,9.5,9.75,10,10.25,10.5,10.75,11,11.25,11.5,11.75,12,12.25,12.5,12.75,13,13.25,13.5,13.75,14,14.25,14.5,14.75,15,15.25,15.5,15.75,16,16.25,16.5,16.75,17,17.25,17.5,17.75,18,18.25,18.5,18.75,19,19.25,19.5,19.75,20,20.25,20.5,20.75,21,21.25,21.5,21.75,22,22.25,22.5,22.75,23,23.25,23.5,23.75,24], "labels": false, "domain": false, "grid": false, "tickSize": 4, "title": null}},
   "y": {"field": "v", "type": "quantitative", "scale": {"domain": [0, 1500], "nice": false},
     "axis": {"orient": "left", "values": [0,50,100,150,200,250,300,350,400,450,500,550,600,650,700,750,800,850,900,950,1000,1050,1100,1150,1200,1250,1300,1350,1400,1450,1500], "labels": false, "domain": false, "grid": false, "tickSize": 4,
       "title": "Comparison of  Reddit Karma vs. Submission Time Between Two Subreddits (UTC)", "titleX": 1080, "titleY": 39, "titleAngle": 0, "titleAlign": "center", "titleBaseline": "alphabetic", "titleFont": "Liberation Serif", "titleFontSize": 48.5, "titleFontWeight": "bold", "titleColor": "black", "titleLimit": 2200}}
  }}
],
"resolve": {"axis": {"x": "independent", "y": "independent"}}
}
